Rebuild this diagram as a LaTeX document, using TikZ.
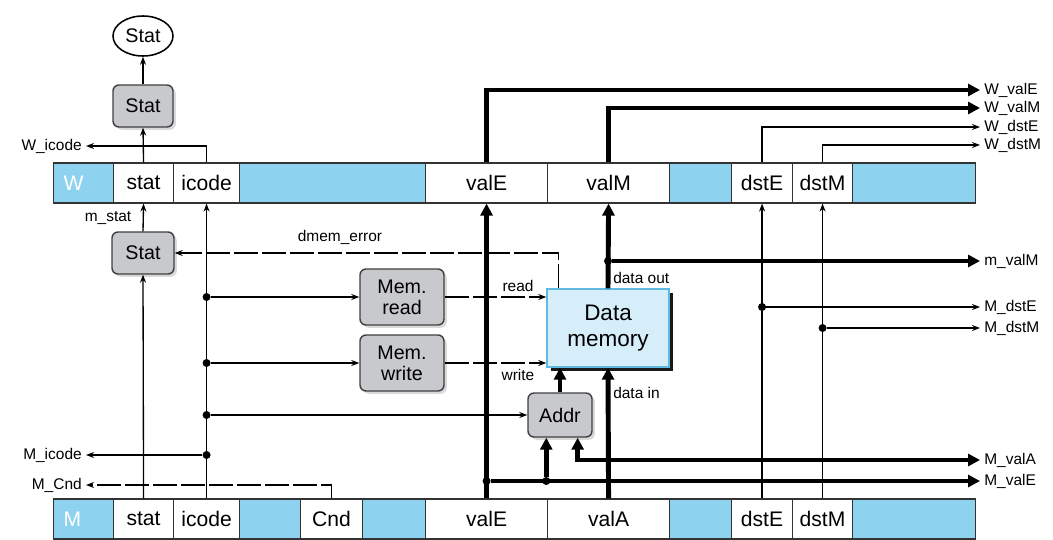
\documentclass[tikz,border=0pt]{standalone}
\usepackage{fontspec}
\setmainfont{Liberation Sans}
\usepackage{tikz}
\usetikzlibrary{calc}
\usetikzlibrary{shapes.geometric,shadows}
\usetikzlibrary{arrows.meta}
\definecolor{regblue}{RGB}{141,211,240}
\definecolor{boxgray}{RGB}{200,201,204}
\definecolor{memfill}{RGB}{214,238,249}
\definecolor{memedge}{RGB}{95,185,225}
\tikzset{
    cell/.style={
        draw=black!80,
        line width=0.8pt,
        rectangle,
        anchor=west,
        minimum height=10mm,
        inner sep=0pt,
        font=\fontsize{15}{15}\selectfont
    },
    bluecell/.style={cell, fill=regblue},
    ctlbox/.style={
        draw=black!75,
        line width=1pt,
        fill=boxgray,
        rounded corners=1.5mm,
        align=center,
        inner sep=0pt,
        font=\fontsize{14}{15}\selectfont,
        drop shadow={opacity=0.3, shadow xshift=0.7mm, shadow yshift=-0.7mm}
    },
    % thin and thick signal lines
    thinarrow/.style={
        line width=0.95pt,
        black,
        -{Stealth[length=2mm, width=1.5mm]}
    },
    thickarrow/.style={
        line width=3.5pt,
        black,
        -{Triangle[length=3mm, width=3mm]}
    },
    thickboth/.style={
        line width=3.5pt,
        black,
        {Triangle[length=3mm, width=3mm]}-{Triangle[length=3mm, width=3mm]}
    },
    errline/.style={dash pattern=on 6mm off 1mm},
    sig/.style={font=\fontsize{11}{11}\selectfont, inner sep=1mm},
    dot/.style={circle, fill=black, inner sep=0pt, minimum size=2mm}
}

\begin{document}
\begin{tikzpicture}[x=0.25mm, y=-0.25mm]
    \useasboundingbox (0,0) rectangle (1053,539);

    % W register
    \node[bluecell, text=white, text width=15mm, align=left] (Wlab) at (53,183) {\hspace*{2.5mm}W};
    \node[cell, minimum width=15mm] (Wstat) at (113,183) {stat};
    \node[cell, minimum width=16.5mm] (Wicode) at (173,183) {icode};
    \node[bluecell, minimum width=46.5mm] (Wb1) at (239,183) {};
    \node[cell, minimum width=30.5mm] (WvalE) at (425,183) {valE};
    \node[cell, minimum width=30.5mm] (WvalM) at (547,183) {valM};
    \node[bluecell, minimum width=15.5mm] (Wb2) at (669,183) {};
    \node[cell, minimum width=15.25mm] (WdstE) at (731,183) {dstE};
    \node[cell, minimum width=15mm] (WdstM) at (792,183) {dstM};
    \node[bluecell, minimum width=30.75mm] (Wb3) at (852,183) {};

    % M register
    \node[bluecell, text=white, text width=15mm, align=left] (Mlab) at (53,519) {\hspace*{2.5mm}M};
    \node[cell, minimum width=15mm] (Mstat) at (113,519) {stat};
    \node[cell, minimum width=16.5mm] (Micode) at (173,519) {icode};
    \node[bluecell, minimum width=15.25mm] (Mb1) at (239,519) {};
    \node[cell, minimum width=15.5mm] (MCnd) at (300,519) {Cnd};
    \node[bluecell, minimum width=15.75mm] (Mb2) at (362,519) {};
    \node[cell, minimum width=30.5mm] (MvalE) at (425,519) {valE};
    \node[cell, minimum width=30.5mm] (MvalA) at (547,519) {valA};
    \node[bluecell, minimum width=15.5mm] (Mb3) at (669,519) {};
    \node[cell, minimum width=15.25mm] (MdstE) at (731,519) {dstE};
    \node[cell, minimum width=15mm] (MdstM) at (792,519) {dstM};
    \node[bluecell, minimum width=30.75mm] (Mb4) at (852,519) {};

    % blocks
    \node[ellipse, draw, line width=1.1pt, fill=white, minimum width=15mm, minimum height=10mm,
          inner sep=0pt, font=\fontsize{14}{14}\selectfont] (StatOut) at (143,36) {Stat};
    \node[ctlbox, minimum width=15mm, minimum height=10.5mm] (StatW) at (143,106) {Stat};
    \node[ctlbox, minimum width=15.5mm, minimum height=10.5mm] (StatM) at (143,253) {Stat};
    \node[ctlbox, minimum width=21mm, minimum height=14mm] (MemRead) at (402,297) {Mem.\\read};
    \node[ctlbox, minimum width=21mm, minimum height=14mm] (MemWrite) at (402,363) {Mem.\\write};
    \node[ctlbox, minimum width=16mm, minimum height=11mm] (Addr) at (560,415) {Addr};
    \node[draw=memedge, line width=1pt, fill=memfill, align=center, inner sep=0pt,
          minimum width=30.5mm, minimum height=19.5mm, font=\fontsize{16}{18}\selectfont,
          drop shadow={fill=black, opacity=0.9, shadow xshift=1mm, shadow yshift=-1mm}]
          (DMem) at (608,328) {Data\\memory};

    % outside labels
    \node[sig, anchor=east] (lWicode) at (86,146) {W\_icode};
    \node[sig, anchor=east] (lMicode) at (86,455) {M\_icode};
    \node[sig, anchor=east] (lMCnd) at (86,485) {M\_Cnd};
    \node[sig, anchor=west] (lWvalE) at (980,90) {W\_valE};
    \node[sig, anchor=west] (lWvalM) at (980,108) {W\_valM};
    \node[sig, anchor=west] (lWdstE) at (980,127) {W\_dstE};
    \node[sig, anchor=west] (lWdstM) at (980,145) {W\_dstM};
    \node[sig, anchor=west] (lmvalM) at (980,261) {m\_valM};
    \node[sig, anchor=west] (lMdstE) at (980,307) {M\_dstE};
    \node[sig, anchor=west] (lMdstM) at (980,328) {M\_dstM};
    \node[sig, anchor=west] (lMvalA) at (980,460) {M\_valA};
    \node[sig, anchor=west] (lMvalE) at (980,481) {M\_valE};
    \node[sig] (lmstat) at (108,218) {m\_stat};
    \node[sig] (lerr) at (340,237) {dmem\_error};
    \node[sig] (lread) at (518,286) {read};
    \node[sig] (lwrite) at (518,375) {write};
    \node[sig, anchor=west] (lout) at (609,278) {data out};
    \node[sig, anchor=west] (lin) at (609,393) {data in};

    % junctions
    \node[dot] (dRead) at (Micode.north |- MemRead.west) {};
    \node[dot] (dWrite) at (Micode.north |- MemWrite.west) {};
    \node[dot] (dAddr) at (Micode.north |- Addr.west) {};
    \node[dot] (dIcode) at (Micode.north |- lMicode.east) {};
    \node[dot] (dValM) at (DMem.north |- lmvalM.west) {};
    \node[dot] (dDstE) at (MdstE.north |- lMdstE.west) {};
    \node[dot] (dDstM) at (MdstM.north |- lMdstM.west) {};
    \node[dot] (dValE) at (MvalE.north |- lMvalE.west) {};
    \coordinate (addrE) at ($(Addr.south west)!0.29!(Addr.south east)$);
    \coordinate (addrA) at ($(Addr.south west)!0.77!(Addr.south east)$);
    \coordinate (errsrc) at ($(DMem.north west)!0.1!(DMem.north east)$);
    \node[dot] (dAddrE) at (addrE |- lMvalE.west) {};

    % write-back side
    \draw[thinarrow] (StatW.north) -- (StatOut.south);
    \draw[thinarrow] (Wstat.north) -- (StatW.south);
    \draw[thinarrow] (Wicode.north) |- (lWicode.east);
    \draw[thickarrow] (WvalE.north) |- (lWvalE.west);
    \draw[thickarrow] (WvalM.north) |- (lWvalM.west);
    \draw[thinarrow] (WdstE.north) |- (lWdstE.west);
    \draw[thinarrow] (WdstM.north) |- (lWdstM.west);

    % memory stage
    \draw[thinarrow] (StatM.north) -- (Wstat.south);
    \draw[thinarrow] (Mstat.north) -- (StatM.south);
    \draw[thinarrow] (Micode.north) -- (Wicode.south);
    \draw[thinarrow] (dRead) -- (MemRead.west);
    \draw[thinarrow] (dWrite) -- (MemWrite.west);
    \draw[thinarrow] (dAddr) -- (Addr.west);
    \draw[thinarrow] (dIcode) -- (lMicode.east);
    \draw[thinarrow, errline] (MCnd.north) |- (lMCnd.east);
    \draw[thinarrow, errline] (errsrc) |- (StatM.east);
    \draw[thinarrow, errline] (MemRead.east) -- (DMem.west |- MemRead.east);
    \draw[thinarrow, errline] (MemWrite.east) -- (DMem.west |- MemWrite.east);

    \draw[thickarrow] (MvalE.north) -- (WvalE.south);
    \draw[thickarrow] (DMem.north) -- (WvalM.south);
    \draw[thickarrow] (MvalA.north) -- (DMem.south);
    \draw[thickarrow] (Addr.north) -- (Addr.north |- DMem.south);
    \draw[thickarrow] (dValM) -- (lmvalM.west);
    \draw[thickarrow] (dValE) -- (lMvalE.west);
    \draw[thickarrow] (dAddrE) -- (addrE);
    \draw[thickboth] (addrA) -- (addrA |- lMvalA.west) -- (lMvalA.west);

    \draw[thinarrow] (MdstE.north) -- (WdstE.south);
    \draw[thinarrow] (MdstM.north) -- (WdstM.south);
    \draw[thinarrow] (dDstE) -- (lMdstE.west);
    \draw[thinarrow] (dDstM) -- (lMdstM.west);
\end{tikzpicture}
\end{document}
